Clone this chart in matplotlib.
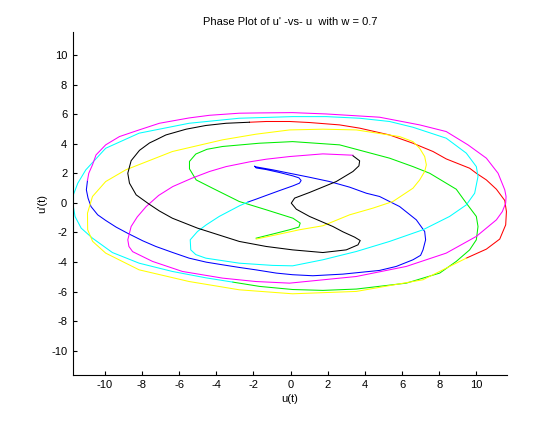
import matplotlib
matplotlib.use('Agg')
import matplotlib.pyplot as plt

plt.rcParams['font.family'] = ['Liberation Sans', 'DejaVu Sans']
plt.rcParams['font.size'] = 8
plt.rcParams['axes.unicode_minus'] = False

# phase curve in 7 coloured pieces (u, u')
blue_u = [-10.93, -10.99, -10.90, -10.74, -10.38, -9.95, -9.39, -8.78, -7.95, -7.25, -6.34, -5.46, -4.54,
          -3.66, -2.75, -1.87, -0.77, 0.11, 1.20, 2.82, 4.79, 5.69, 6.59, 7.00, 7.13, 7.27, 7.22, 6.77,
          5.87, 4.79, 4.08, 3.18, 2.10, 1.02, -0.05, -0.95, -1.85, -1.94, -1.85, -1.31, -0.59, 0.13,
          0.45, 0.57, 0.48, 0.13, -0.59, -1.31, -1.85, -2.30]
blue_v = [1.51, 0.88, 0.32, -0.25, -0.81, -1.19, -1.64, -2.05, -2.57, -2.95, -3.36, -3.74, -4.01,
          -4.19, -4.37, -4.53, -4.75, -4.86, -4.93, -4.82, -4.57, -4.30, -3.85, -3.55, -3.18, -2.50,
          -1.94, -1.15, -0.25, 0.43, 0.65, 1.06, 1.44, 1.73, 2.00, 2.23, 2.43, 2.48, 2.36, 2.25, 2.05,
          1.82, 1.69, 1.51, 1.33, 1.15, 0.83, 0.50, 0.25, 0.05]

cyan_u = [-2.30, -2.75, -3.84, -4.54, -5.01, -5.40, -5.37, -5.10, -4.56, -2.76, -0.97, 0.11, 1.74,
          3.54, 5.33, 7.13, 8.56, 9.46, 9.91, 10.09, 10.00, 9.46, 8.38, 6.59, 5.33, 3.72, 1.92, 0.11,
          -2.76, -5.46, -8.15, -9.95, -11.02, -11.45, -11.69, -11.72, -11.60, -11.27, -10.66, -9.59,
          -8.15, -6.36, -4.56, -3.11]
cyan_v = [0.05, -0.20, -0.92, -1.49, -1.94, -2.50, -3.18, -3.50, -3.74, -4.08, -4.23, -4.26, -3.85,
          -3.29, -2.61, -1.82, -0.92, -0.14, 0.65, 1.78, 2.45, 3.36, 4.37, 5.11, 5.50, 5.72, 5.83, 5.83,
          5.72, 5.38, 4.71, 3.69, 2.23, 1.33, 0.54, -0.02, -0.92, -1.71, -2.39, -3.36, -4.08, -4.64,
          -5.07, -5.36]

green_u = [-3.11, -1.67, 0.11, 1.74, 3.54, 6.23, 8.03, 8.92, 9.64, 10.00, 10.09, 10.00, 9.46, 8.92,
           7.49, 6.59, 5.33, 2.64, 0.11, -1.69, -3.66, -4.50, -5.10, -5.44, -5.44, -5.08, -4.20, -2.76,
           -1.31, 0.13, 0.52, 0.45, -0.05, -0.77, -1.85]
green_v = [-5.36, -5.65, -5.86, -5.92, -5.83, -5.43, -4.75, -3.96, -3.18, -2.50, -1.60, -0.92, -0.02,
           0.92, 2.00, 2.45, 3.02, 3.92, 4.14, 4.03, 3.81, 3.62, 3.30, 2.80, 2.30, 1.55, 0.99, 0.09,
           -0.47, -1.04, -1.37, -1.64, -1.82, -2.05, -2.39]

yellow_u = [-1.85, -0.77, 0.48, 1.74, 3.18, 4.43, 5.51, 6.59, 6.95, 7.22, 7.31, 7.22, 6.95, 6.59,
            5.87, 3.54, 1.74, -0.05, -1.87, -3.66, -6.36, -8.87, -9.95, -10.66, -10.93, -10.92, -10.65,
            -9.95, -8.15, -5.46, -2.76, 0.11, 3.54, 7.13, 9.46]
yellow_v = [-2.45, -2.16, -1.82, -1.55, -0.81, -0.36, 0.09, 0.99, 1.55, 2.12, 2.57, 3.13, 3.69, 4.14,
            4.48, 4.93, 4.98, 4.93, 4.64, 4.26, 3.47, 2.23, 1.44, 0.43, -0.70, -1.82, -2.61, -3.40,
            -4.53, -5.32, -5.88, -6.15, -5.99, -5.20, -3.74]

red_u = [9.46, 10.54, 11.26, 11.58, 11.62, 11.53, 11.08, 10.54, 10.00, 9.64, 8.38, 7.67, 6.59, 5.33,
         3.72, 2.64, 1.02, -0.05, -1.31, -2.21]
red_v = [-3.74, -3.13, -2.45, -1.49, -0.59, 0.16, 0.92, 1.55, 2.00, 2.34, 2.97, 3.47, 4.03, 4.59,
         5.05, 5.27, 5.43, 5.50, 5.50, 5.45]

black_u = [-2.21, -3.47, -4.56, -5.62, -6.71, -7.24, -7.59, -8.13, -8.58, -8.76, -8.67, -8.31, -7.61,
           -7.06, -6.36, -5.01, -2.76, -1.31, 0.11, 1.74, 3.00, 3.63, 3.75, 3.45, 2.82, 2.28, 1.02, 0.31,
           0.04, 0.22, 1.02, 2.46, 3.36, 3.68, 3.72, 3.36]
black_v = [5.45, 5.38, 5.23, 4.98, 4.59, 4.26, 4.05, 3.55, 2.85, 2.00, 1.33, 0.54, -0.09, -0.55,
           -1.04, -1.71, -2.61, -2.95, -3.18, -3.36, -3.18, -2.84, -2.55, -2.32, -1.96, -1.60, -0.92,
           -0.43, -0.02, 0.32, 0.70, 1.44, 2.12, 2.50, 2.84, 3.18]

magenta_u = [3.36, 1.74, -0.05, -1.31, -2.21, -3.47, -4.36, -5.30, -6.34, -7.10, -7.77, -8.25, -8.58,
             -8.76, -8.70, -8.50, -7.43, -5.82, -3.66, -1.87, -0.05, 3.54, 6.23, 8.38, 10.00, 11.08,
             11.40, 11.58, 11.60, 11.53, 11.17, 10.54, 9.55, 8.38, 6.95, 4.79, 1.92, 0.11, -1.67, -2.76,
             -4.36, -5.46, -7.06, -8.15, -9.21, -9.95, -10.47, -10.66, -10.86, -10.93]
magenta_v = [3.22, 3.31, 3.13, 2.95, 2.77, 2.45, 2.12, 1.67, 1.10, 0.50, -0.25, -0.95, -1.60, -2.50,
             -2.95, -3.30, -3.96, -4.64, -5.09, -5.32, -5.43, -4.98, -4.30, -3.40, -2.27, -1.15, -0.59,
             -0.02, 0.43, 0.88, 2.00, 3.02, 3.92, 4.82, 5.27, 5.79, 6.01, 6.10, 6.08, 6.06, 5.92, 5.74,
             5.38, 4.93, 4.48, 3.92, 3.24, 2.57, 2.00, 1.51]

ticks = [-10, -8, -6, -4, -2, 0, 2, 4, 6, 8, 10]

fig = plt.figure(figsize=(5.6, 4.21), dpi=100)
ax = fig.add_axes([0.13, 0.11, 0.775, 0.815])

lw = 0.75
ax.plot(blue_u, blue_v, color='#0000ff', lw=lw)
ax.plot(green_u, green_v, color='#00ee00', lw=lw)
ax.plot(red_u, red_v, color='#ff0000', lw=lw)
ax.plot(cyan_u, cyan_v, color='#00ffff', lw=lw)
ax.plot(magenta_u, magenta_v, color='#ff00ff', lw=lw)
ax.plot(yellow_u, yellow_v, color='#ffff00', lw=lw)
ax.plot(black_u, black_v, color='#000000', lw=lw)

ax.set_xlim(-11.72, 11.64)
ax.set_ylim(-11.62, 11.58)
ax.set_xticks(ticks)
ax.set_yticks(ticks)
ax.tick_params(direction='in', length=3, width=0.8, pad=4, labelsize=8)
ax.spines['top'].set_visible(False)
ax.spines['right'].set_visible(False)

ax.set_title("Phase Plot of u' -vs- u  with w = 0.7", fontsize=8, pad=5)
ax.set_xlabel('u(t)', fontsize=8, labelpad=3)
ax.set_ylabel("u'(t)", fontsize=8, labelpad=3)

plt.savefig('out.png', dpi=100)
